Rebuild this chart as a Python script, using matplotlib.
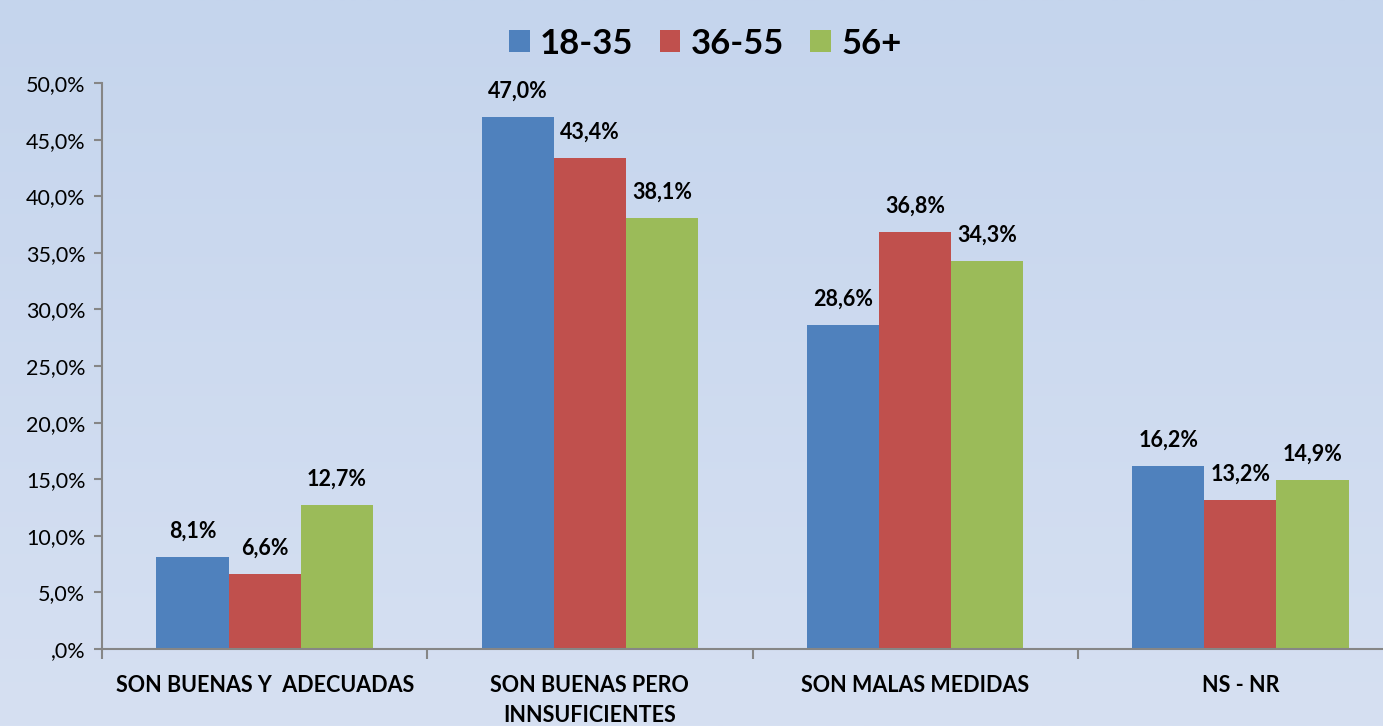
import matplotlib.pyplot as plt
import numpy as np

# data
categories = ['SON BUENAS Y  ADECUADAS', 'SON BUENAS PERO\nINNSUFICIENTES',
              'SON MALAS MEDIDAS', 'NS - NR']
series_names = ['18-35', '36-55', '56+']
v_18_35 = [8.1, 47.0, 28.6, 16.2]
v_36_55 = [6.6, 43.4, 36.8, 13.2]
v_56 = [12.7, 38.1, 34.3, 14.9]
colors = ['#4F81BD', '#C0504D', '#9BBB59']
ytick_vals = [0, 5, 10, 15, 20, 25, 30, 35, 40, 45, 50]
ytick_labels = [',0%', '5,0%', '10,0%', '15,0%', '20,0%', '25,0%',
                '30,0%', '35,0%', '40,0%', '45,0%', '50,0%']

plt.rcParams['font.family'] = ['Lato', 'DejaVu Sans']

fig = plt.figure(figsize=(13.83, 7.26), dpi=100)

# gradient background
bg = fig.add_axes([0, 0, 1, 1], zorder=-10)
grad = np.linspace(0, 1, 256).reshape(-1, 1)
top = np.array([197, 213, 237]) / 255
bot = np.array([214, 224, 242]) / 255
img = top + (bot - top) * grad[:, :, None]
bg.imshow(img, aspect='auto', extent=[0, 1, 0, 1])
bg.axis('off')

ax = fig.add_axes([102 / 1383, 77 / 726, 1301 / 1383, 566 / 726])
ax.patch.set_alpha(0)

x = np.arange(len(categories))
w = 0.222
all_vals = [v_18_35, v_36_55, v_56]
for i, (name, vals) in enumerate(zip(series_names, all_vals)):
    bars = ax.bar(x + (i - 1) * w, vals, w, color=colors[i], label=name)
    for b, v in zip(bars, vals):
        ax.annotate(f'{v:.1f}%'.replace('.', ','),
                    (b.get_x() + b.get_width() / 2, b.get_height()),
                    xytext=(0, 11), textcoords='offset points',
                    ha='center', va='bottom', fontsize=15.5, fontweight='bold')

ax.set_xlim(-0.5, len(categories) - 0.5)
ax.set_ylim(0, 50)
ax.set_yticks(ytick_vals)
ax.set_yticklabels(ytick_labels, fontsize=15.5)
ax.set_xticks(x)
ax.set_xticklabels(categories, fontsize=15.5, fontweight='bold', va='top',
                   linespacing=1.5)
ax.set_xticks(np.arange(len(categories) + 1) - 0.5, minor=True)
ax.tick_params(axis='x', which='major', length=0, pad=19)
ax.tick_params(axis='x', which='minor', length=7, color='#868686', width=1.5)
ax.tick_params(axis='y', length=6, color='#868686', width=1.5, pad=6)

for s in ['top', 'right']:
    ax.spines[s].set_visible(False)
for s in ['left', 'bottom']:
    ax.spines[s].set_color('#868686')
    ax.spines[s].set_linewidth(1.5)

fig.legend(loc='upper center', bbox_to_anchor=(0.51, 1.005), ncol=3, frameon=False,
           prop={'size': 25, 'weight': 'bold'}, handlelength=0.6, handleheight=0.6,
           handletextpad=0.3, columnspacing=0.75)

fig.savefig('out.png', dpi=100)
